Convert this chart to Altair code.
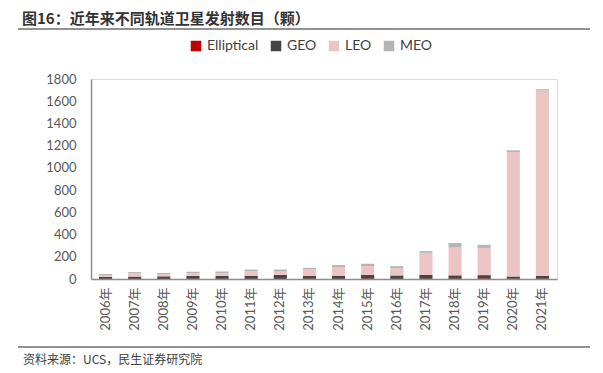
import altair as alt
import pandas as pd

years = ["2006年", "2007年", "2008年", "2009年", "2010年", "2011年", "2012年", "2013年",
         "2014年", "2015年", "2016年", "2017年", "2018年", "2019年", "2020年", "2021年"]
elliptical = [2, 2, 2, 3, 3, 2, 2, 3, 2, 4, 2, 3, 3, 5, 3, 3]
geo = [18, 20, 22, 25, 25, 28, 35, 25, 28, 33, 30, 33, 30, 30, 20, 25]
leo = [15, 28, 20, 25, 25, 40, 30, 60, 75, 80, 65, 200, 250, 245, 1120, 1670]
meo = [10, 12, 10, 12, 15, 15, 18, 12, 20, 20, 18, 15, 40, 28, 15, 10]

series = ["Elliptical", "GEO", "LEO", "MEO"]
colors = ["#C00000", "#454545", "#ECC4C4", "#B4B4B4"]

rows = []
for i, y in enumerate(years):
    for k, (name, vals) in enumerate(zip(series, [elliptical, geo, leo, meo])):
        rows.append({"year": y, "type": name, "value": vals[i], "ord": k})
df = pd.DataFrame(rows)

FONT = "Lato, Noto Sans CJK SC"

bars = alt.Chart(df).mark_bar().encode(
    x=alt.X("year:N", sort=years, title=None,
            scale=alt.Scale(paddingInner=0.55, paddingOuter=0.275),
            axis=alt.Axis(labelAngle=270, labelFontSize=13, labelColor="#595959",
                          labelFont=FONT, ticks=False, domainColor="#8C8C8C",
                          domainWidth=1.5, labelPadding=8)),
    y=alt.Y("value:Q", stack="zero", title=None,
            scale=alt.Scale(domain=[0, 1800], nice=False),
            axis=alt.Axis(values=list(range(0, 1801, 200)), format="d", grid=False, ticks=False,
                          labelFontSize=13, labelColor="#595959", labelFont=FONT,
                          domainColor="#8C8C8C", domainWidth=1.5, labelPadding=15)),
    color=alt.Color("type:N", sort=series,
                    scale=alt.Scale(domain=series, range=colors),
                    legend=alt.Legend(title=None, orient="none", direction="horizontal",
                                      legendX=98, legendY=-40, symbolType="square",
                                      symbolSize=110, symbolStrokeWidth=0,
                                      labelFontSize=14, labelColor="#404040",
                                      labelFont=FONT, columnPadding=10, symbolOffset=0)),
    order=alt.Order("ord:Q"),
)

deco = pd.DataFrame({"k": [0]})
title_txt = alt.Chart(deco).mark_text(
    text="图16：近年来不同轨道卫星发射数目（颗）", align="left", baseline="alphabetic",
    fontSize=15, fontWeight="bold", font="Noto Sans CJK SC", color="#333333"
).encode(x=alt.value(-69), y=alt.value(-55))

line_top = alt.Chart(deco).mark_rule(color="#6E6E6E", strokeWidth=1.5).encode(
    x=alt.value(-73), x2=alt.value(499), y=alt.value(-50))
line_bot = alt.Chart(deco).mark_rule(color="#6E6E6E", strokeWidth=1.5).encode(
    x=alt.value(-73), x2=alt.value(499), y=alt.value(268))

source_txt = alt.Chart(deco).mark_text(
    text="资料来源：UCS，民生证券研究院", align="left", baseline="middle",
    fontSize=12, font="Noto Sans CJK SC", color="#404040"
).encode(x=alt.value(-68), y=alt.value(281))

chart = alt.layer(bars, line_top, line_bot, title_txt, source_txt).properties(
    width=466, height=200,
    autosize=alt.AutoSizeParams(type="none"),
    padding={"left": 83, "top": 71, "right": 38, "bottom": 94},
).configure_view(stroke=None).configure(background="white")

chart.save("out.html", embed_options={"renderer": "svg", "actions": False})
